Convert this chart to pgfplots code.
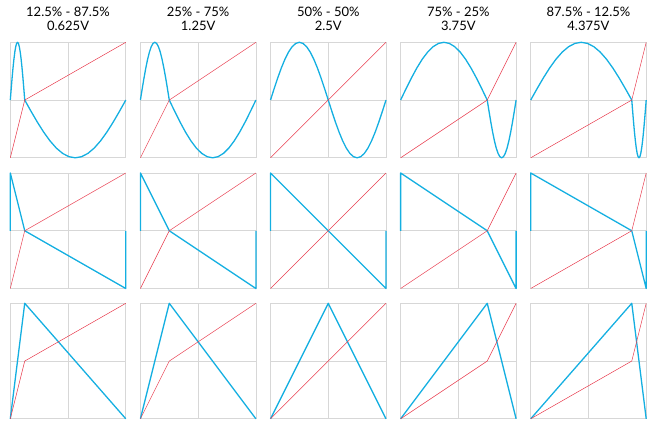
\documentclass[border=0pt]{standalone}
\usepackage{fontspec}
\setmainfont{Lato}
\usepackage{pgfplots}
\pgfplotsset{compat=1.18}
\definecolor{cy}{RGB}{20,175,225}
\definecolor{rd}{RGB}{232,60,78}
\definecolor{gr}{RGB}{215,215,215}
\pgfplotsset{
  pan/.style={
    scale only axis, width=115.5pt, height=115.5pt, anchor=north west,
    xmin=0, xmax=1, ymin=-1, ymax=1,
    xtick={0.5}, ytick={0}, xticklabels={}, yticklabels={},
    grid=major, major grid style={gr, line width=0.7pt},
    axis line style={gr, line width=0.7pt},
    major tick length=0pt, clip=false,
  },
  cyl/.style={cy, line width=1.3pt, line join=round, mark=none},
  rdl/.style={rd, line width=0.5pt, mark=none},
}
\newcommand{\ttl}[3]{%
  \node[anchor=base, font=\fontsize{13}{15}\selectfont] at (#1pt,-16.8pt) {#2};
  \node[anchor=base, font=\fontsize{13}{15}\selectfont] at (#1pt,-30.2pt) {#3};
}
\begin{document}
\begin{tikzpicture}[x=1pt,y=1pt]
\path[use as bounding box] (0,0) rectangle (657,-426);
\ttl{68.05}{12.5\% - 87.5\%}{0.625V}
\ttl{198.15}{25\% - 75\%}{1.25V}
\ttl{328.25}{50\% - 50\%}{2.5V}
\ttl{458.35}{75\% - 25\%}{3.75V}
\ttl{588.45}{87.5\% - 12.5\%}{4.375V}

% ---------- row 1: sine ----------
\begin{axis}[pan, at={(10.3pt,-42.3pt)}]
\addplot[cyl] coordinates {(0,0)(.0078,.1951)(.0156,.3827)(.0234,.5556)(.0313,.7071)(.0391,.8315)(.0469,.9239)(.0547,.9808)(.0625,1)(.0703,.9808)(.0781,.9239)(.0859,.8315)(.0938,.7071)(.1016,.5556)(.1094,.3827)(.1172,.1951)(.125,0)(.1797,-.1951)(.2344,-.3827)(.2891,-.5556)(.3438,-.7071)(.3984,-.8315)(.4531,-.9239)(.5078,-.9808)(.5625,-1)(.6172,-.9808)(.6719,-.9239)(.7266,-.8315)(.7813,-.7071)(.8359,-.5556)(.8906,-.3827)(.9453,-.1951)(1,0)};
\addplot[rdl] coordinates {(0,-1)(0.125,0)(1,1)};
\end{axis}
\begin{axis}[pan, at={(140.4pt,-42.3pt)}]
\addplot[cyl] coordinates {(0,0)(.0156,.1951)(.0313,.3827)(.0469,.5556)(.0625,.7071)(.0781,.8315)(.0938,.9239)(.1094,.9808)(.125,1)(.1406,.9808)(.1563,.9239)(.1719,.8315)(.1875,.7071)(.2031,.5556)(.2188,.3827)(.2344,.1951)(.25,0)(.2969,-.1951)(.3438,-.3827)(.3906,-.5556)(.4375,-.7071)(.4844,-.8315)(.5313,-.9239)(.5781,-.9808)(.625,-1)(.6719,-.9808)(.7188,-.9239)(.7656,-.8315)(.8125,-.7071)(.8594,-.5556)(.9063,-.3827)(.9531,-.1951)(1,0)};
\addplot[rdl] coordinates {(0,-1)(0.25,0)(1,1)};
\end{axis}
\begin{axis}[pan, at={(270.5pt,-42.3pt)}]
\addplot[cyl] coordinates {(0,0)(.0313,.1951)(.0625,.3827)(.0938,.5556)(.125,.7071)(.1563,.8315)(.1875,.9239)(.2188,.9808)(.25,1)(.2813,.9808)(.3125,.9239)(.3438,.8315)(.375,.7071)(.4063,.5556)(.4375,.3827)(.4688,.1951)(.5,0)(.5313,-.1951)(.5625,-.3827)(.5938,-.5556)(.625,-.7071)(.6563,-.8315)(.6875,-.9239)(.7188,-.9808)(.75,-1)(.7813,-.9808)(.8125,-.9239)(.8438,-.8315)(.875,-.7071)(.9063,-.5556)(.9375,-.3827)(.9688,-.1951)(1,0)};
\addplot[rdl] coordinates {(0,-1)(0.5,0)(1,1)};
\end{axis}
\begin{axis}[pan, at={(400.6pt,-42.3pt)}]
\addplot[cyl] coordinates {(0,0)(.0469,.1951)(.0938,.3827)(.1406,.5556)(.1875,.7071)(.2344,.8315)(.2813,.9239)(.3281,.9808)(.375,1)(.4219,.9808)(.4688,.9239)(.5156,.8315)(.5625,.7071)(.6094,.5556)(.6563,.3827)(.7031,.1951)(.75,0)(.7656,-.1951)(.7813,-.3827)(.7969,-.5556)(.8125,-.7071)(.8281,-.8315)(.8438,-.9239)(.8594,-.9808)(.875,-1)(.8906,-.9808)(.9063,-.9239)(.9219,-.8315)(.9375,-.7071)(.9531,-.5556)(.9688,-.3827)(.9844,-.1951)(1,0)};
\addplot[rdl] coordinates {(0,-1)(0.75,0)(1,1)};
\end{axis}
\begin{axis}[pan, at={(530.7pt,-42.3pt)}]
\addplot[cyl] coordinates {(0,0)(.0547,.1951)(.1094,.3827)(.1641,.5556)(.2188,.7071)(.2734,.8315)(.3281,.9239)(.3828,.9808)(.4375,1)(.4922,.9808)(.5469,.9239)(.6016,.8315)(.6563,.7071)(.7109,.5556)(.7656,.3827)(.8203,.1951)(.875,0)(.8828,-.1951)(.8906,-.3827)(.8984,-.5556)(.9063,-.7071)(.9141,-.8315)(.9219,-.9239)(.9297,-.9808)(.9375,-1)(.9453,-.9808)(.9531,-.9239)(.9609,-.8315)(.9688,-.7071)(.9766,-.5556)(.9844,-.3827)(.9922,-.1951)(1,0)};
\addplot[rdl] coordinates {(0,-1)(0.875,0)(1,1)};
\end{axis}

% ---------- row 2: saw ----------
\begin{axis}[pan, at={(10.3pt,-173pt)}]
\addplot[cyl] coordinates {(0,0)(0,1)(0.125,0)(1,-1)(1,0)};
\addplot[rdl] coordinates {(0,-1)(0.125,0)(1,1)};
\end{axis}
\begin{axis}[pan, at={(140.4pt,-173pt)}]
\addplot[cyl] coordinates {(0,0)(0,1)(0.25,0)(1,-1)(1,0)};
\addplot[rdl] coordinates {(0,-1)(0.25,0)(1,1)};
\end{axis}
\begin{axis}[pan, at={(270.5pt,-173pt)}]
\addplot[cyl] coordinates {(0,0)(0,1)(0.5,0)(1,-1)(1,0)};
\addplot[rdl] coordinates {(0,-1)(0.5,0)(1,1)};
\end{axis}
\begin{axis}[pan, at={(400.6pt,-173pt)}]
\addplot[cyl] coordinates {(0,0)(0,1)(0.75,0)(1,-1)(1,0)};
\addplot[rdl] coordinates {(0,-1)(0.75,0)(1,1)};
\end{axis}
\begin{axis}[pan, at={(530.7pt,-173pt)}]
\addplot[cyl] coordinates {(0,0)(0,1)(0.875,0)(1,-1)(1,0)};
\addplot[rdl] coordinates {(0,-1)(0.875,0)(1,1)};
\end{axis}

% ---------- row 3: triangle ----------
\begin{axis}[pan, at={(10.3pt,-303.3pt)}]
\addplot[cyl] coordinates {(0,-1)(0.125,1)(1,-1)};
\addplot[rdl] coordinates {(0,-1)(0.125,0)(1,1)};
\end{axis}
\begin{axis}[pan, at={(140.4pt,-303.3pt)}]
\addplot[cyl] coordinates {(0,-1)(0.25,1)(1,-1)};
\addplot[rdl] coordinates {(0,-1)(0.25,0)(1,1)};
\end{axis}
\begin{axis}[pan, at={(270.5pt,-303.3pt)}]
\addplot[cyl] coordinates {(0,-1)(0.5,1)(1,-1)};
\addplot[rdl] coordinates {(0,-1)(0.5,0)(1,1)};
\end{axis}
\begin{axis}[pan, at={(400.6pt,-303.3pt)}]
\addplot[cyl] coordinates {(0,-1)(0.75,1)(1,-1)};
\addplot[rdl] coordinates {(0,-1)(0.75,0)(1,1)};
\end{axis}
\begin{axis}[pan, at={(530.7pt,-303.3pt)}]
\addplot[cyl] coordinates {(0,-1)(0.875,1)(1,-1)};
\addplot[rdl] coordinates {(0,-1)(0.875,0)(1,1)};
\end{axis}
\end{tikzpicture}
\end{document}
